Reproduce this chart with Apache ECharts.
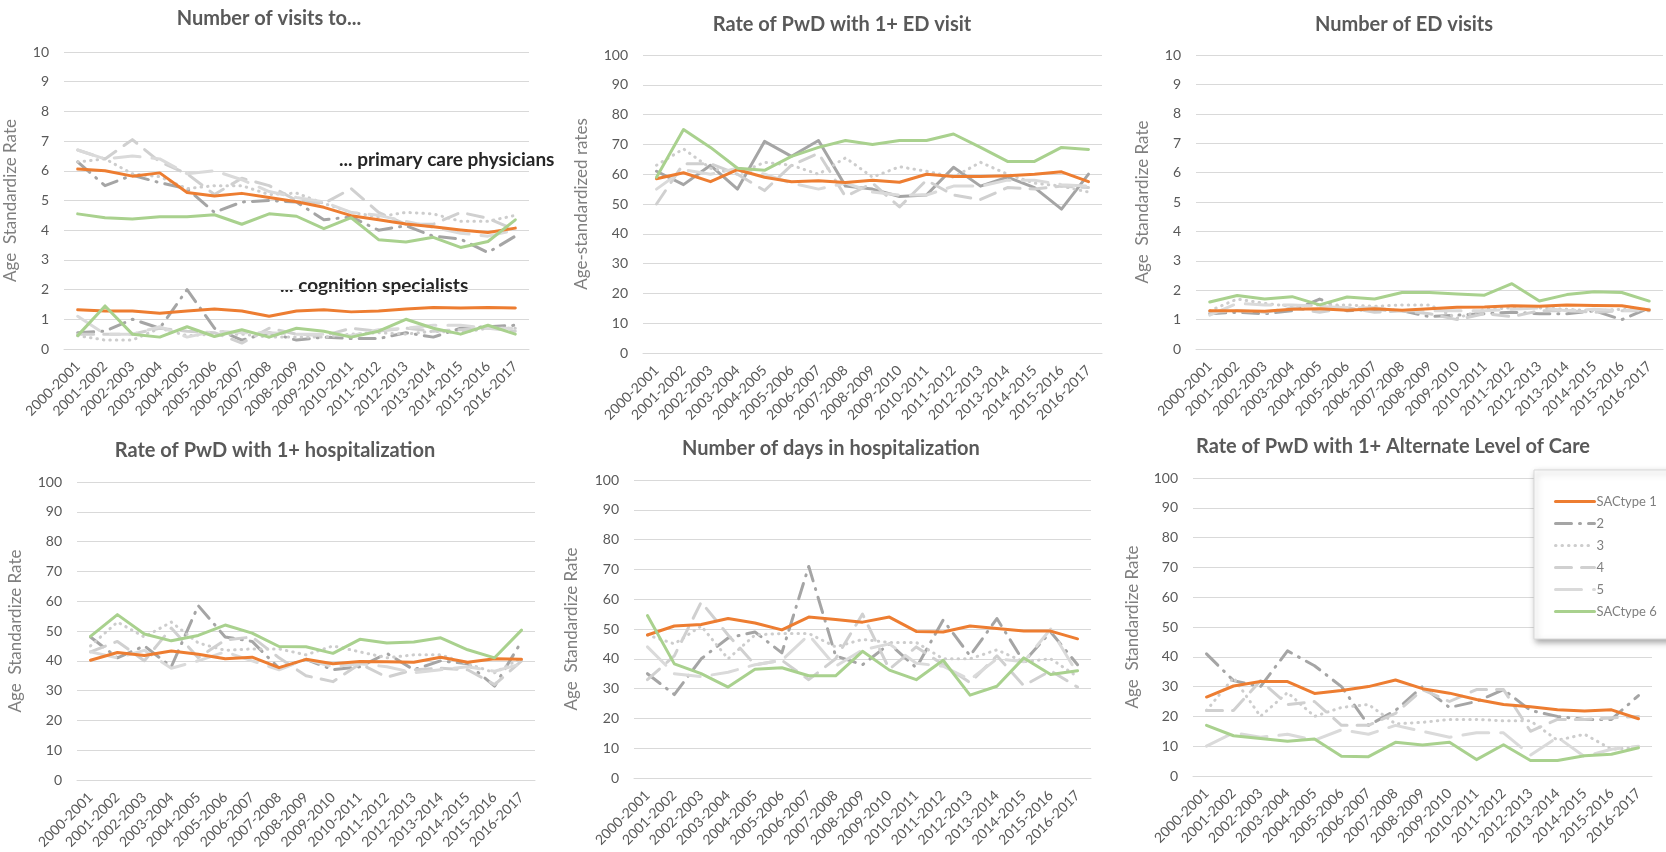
<!DOCTYPE html>
<html>
<head>
<meta charset="utf-8">
<script src="https://cdn.jsdelivr.net/npm/echarts@6/dist/echarts.min.js"></script>
<style>
html, body { margin: 0; padding: 0; background: #fff; }
#chart { width: 1666px; height: 852px; }
</style>
</head>
<body>
<div id="chart"></div>
<script>
// Fiscal years on every x axis
const years = ['2000-2001','2001-2002','2002-2003','2003-2004','2004-2005','2005-2006','2006-2007','2007-2008','2008-2009','2009-2010','2010-2011','2011-2012','2012-2013','2013-2014','2014-2015','2015-2016','2016-2017'];
const seriesNames = ['SACtype 1', '2', '3', '4', '5', 'SACtype 6'];

// Each panel: rows in order SACtype 1, 2, 3, 4, 5, SACtype 6
const pcpVisits = [
  [6.06, 6.0, 5.82, 5.93, 5.27, 5.15, 5.24, 5.1, 4.96, 4.77, 4.49, 4.35, 4.21, 4.12, 4.01, 3.92, 4.07],
  [6.3, 5.5, 5.85, 5.6, 5.4, 4.6, 4.95, 5.0, 4.95, 4.35, 4.45, 4.0, 4.15, 3.8, 3.7, 3.25, 3.8],
  [6.3, 6.4, 5.9, 5.8, 5.4, 5.5, 5.5, 5.2, 5.25, 4.9, 4.6, 4.45, 4.6, 4.55, 4.3, 4.3, 4.5],
  [6.7, 6.4, 7.05, 6.3, 5.9, 5.2, 5.75, 5.5, 5.0, 4.9, 5.4, 4.6, 4.2, 4.2, 4.6, 4.4, 4.0],
  [6.7, 6.4, 6.5, 6.4, 5.9, 6.0, 5.7, 5.3, 5.1, 4.95, 4.6, 4.5, 4.3, 4.1, 3.9, 3.8, 4.0],
  [4.55, 4.42, 4.38, 4.45, 4.45, 4.52, 4.2, 4.55, 4.47, 4.05, 4.42, 3.68, 3.6, 3.76, 3.42, 3.62, 4.35]
];
const cognitionVisits = [
  [1.32, 1.28, 1.28, 1.2, 1.28, 1.35, 1.28, 1.1, 1.28, 1.32, 1.25, 1.28, 1.35, 1.4, 1.38, 1.4, 1.38],
  [0.55, 0.6, 1.0, 0.7, 2.0, 0.7, 0.3, 0.55, 0.3, 0.4, 0.35, 0.35, 0.55, 0.4, 0.7, 0.75, 0.8],
  [0.45, 0.3, 0.3, 0.7, 0.45, 0.5, 0.5, 0.4, 0.4, 0.4, 0.5, 0.55, 0.5, 0.6, 0.55, 0.7, 0.7],
  [0.5, 0.5, 0.5, 0.7, 0.6, 0.55, 0.2, 0.7, 0.5, 0.45, 0.7, 0.6, 0.7, 0.6, 0.65, 0.7, 0.6],
  [1.1, 0.5, 0.5, 0.75, 0.4, 0.6, 0.55, 0.55, 0.5, 0.5, 0.45, 0.65, 0.7, 0.8, 0.8, 0.7, 0.7],
  [0.45, 1.45, 0.5, 0.4, 0.75, 0.42, 0.65, 0.4, 0.7, 0.6, 0.4, 0.6, 1.0, 0.7, 0.5, 0.8, 0.5]
];
const edVisitRate = [
  [58.5, 60.5, 57.5, 61.5, 59, 57.5, 57.8, 57.2, 58, 57.3, 60, 59.2, 59.2, 59.5, 60, 60.8, 57.5],
  [61, 56.5, 63, 55, 71, 66, 71.3, 56, 55, 52.5, 53, 62.3, 56, 59, 55.5, 48.3, 60],
  [63, 68.5, 62, 60, 64, 63, 60, 65.5, 59, 62.5, 61, 59, 64, 60, 57, 56, 54],
  [50, 63.5, 63.5, 60, 54.5, 63, 67, 52.5, 57, 49, 58, 53, 51.5, 55.5, 55, 56, 55.5],
  [55, 61.5, 60, 62, 60, 57, 55, 57, 54, 53, 53, 56, 56, 58, 58, 56.5, 56],
  [59, 75, 69, 62, 61.3, 66, 69, 71.3, 70, 71.3, 71.3, 73.5, 69, 64.3, 64.3, 69, 68.3]
];
const edVisitCount = [
  [1.3, 1.3, 1.28, 1.35, 1.37, 1.32, 1.37, 1.32, 1.37, 1.42, 1.43, 1.47, 1.45, 1.5, 1.48, 1.47, 1.33],
  [1.2, 1.25, 1.2, 1.3, 1.7, 1.3, 1.35, 1.3, 1.1, 1.15, 1.2, 1.25, 1.2, 1.2, 1.3, 1.0, 1.4],
  [1.3, 1.7, 1.55, 1.45, 1.5, 1.5, 1.45, 1.5, 1.5, 1.05, 1.35, 1.4, 1.4, 1.35, 1.3, 1.35, 1.35],
  [1.25, 1.3, 1.25, 1.4, 1.25, 1.4, 1.25, 1.3, 1.2, 1.0, 1.2, 1.1, 1.3, 1.3, 1.25, 1.3, 1.3],
  [1.15, 1.55, 1.5, 1.5, 1.45, 1.4, 1.4, 1.3, 1.3, 1.3, 1.3, 1.35, 1.4, 1.3, 1.35, 1.3, 1.35],
  [1.6, 1.82, 1.7, 1.78, 1.5, 1.77, 1.7, 1.92, 1.92, 1.87, 1.83, 2.22, 1.63, 1.85, 1.95, 1.92, 1.63]
];
const hospRate = [
  [40.2, 42.8, 41.8, 43.3, 42.2, 40.7, 41.2, 37.7, 40.5, 39, 39.8, 39.7, 39.5, 41.2, 39.5, 40.7, 40.5],
  [48, 41, 45, 38, 58.5, 48, 46.5, 37.5, 40.5, 37, 38, 42.5, 37, 40, 39, 31.5, 46.5],
  [45, 53, 48, 53, 46, 43.5, 44, 44, 42, 45, 43, 41, 42, 42, 39, 36, 41],
  [43, 46.5, 40, 51, 41, 47, 48, 41, 35, 33, 39, 34.5, 37, 37.5, 37, 32, 40],
  [43, 41, 43.5, 37.5, 40, 43, 40, 37, 40.5, 38, 39, 38, 36, 37, 38, 36.5, 39],
  [48.2, 55.5, 49, 46.7, 48.5, 52, 49.3, 44.8, 44.7, 42.5, 47.2, 46, 46.3, 47.7, 43.7, 41, 50.3]
];
const hospDays = [
  [48, 51, 51.5, 53.5, 52, 49.7, 54, 53.2, 52.3, 54, 49.2, 49, 51, 50.2, 49.3, 49.3, 46.7],
  [35, 28, 40, 47, 49, 42, 71, 41, 38, 45, 37, 53, 41, 53.5, 39, 49, 38],
  [48, 45, 51, 40, 48, 48.5, 48.5, 44, 46.5, 45.5, 45.5, 40, 40, 43, 39, 40, 34],
  [33, 41, 59, 48, 38, 39.5, 33, 40, 55, 36.5, 44, 38, 32, 41, 31, 36, 30.5],
  [44, 35, 34, 35.5, 38, 39.5, 48, 37.5, 43, 45, 38.5, 37.5, 33, 40, 39, 50, 35],
  [54.5, 38.3, 35, 30.5, 36.5, 37, 34.3, 34.3, 42.5, 36.2, 33, 39.5, 27.8, 30.8, 40.3, 34.7, 36]
];
const alcRate = [
  [26.5, 30.2, 31.7, 31.7, 27.7, 28.7, 30, 32.2, 29.3, 27.8, 25.7, 24, 23.2, 22.2, 21.8, 22.2, 19.2],
  [41, 32, 30, 42, 37, 30, 17, 22, 30, 23, 25, 29, 22, 20, 19, 19, 27],
  [22, 33, 20, 28, 20, 23, 24, 17.5, 18, 19, 19, 18.5, 18.5, 12, 14, 9, 9.5],
  [22, 22, 32, 24, 25, 17, 17, 21, 29, 25, 29, 29, 15, 19, 19, 19.5, 20],
  [10, 14.5, 13, 14, 12, 15.5, 14, 17, 15, 13, 14.5, 14.5, 7, 13, 6.5, 9, 10],
  [17, 13.5, 12.6, 11.7, 12.4, 6.6, 6.5, 11.3, 10.4, 11.3, 5.5, 10.5, 5.2, 5.2, 6.8, 7.3, 9.5]
];

// Line look for each SAC type
const lineColors = ['#ED7D31', '#A5A5A5', '#CDCDCD', '#D0D0D0', '#DADADA', '#A9D18E'];
const lineDashes = ['solid', [16, 8, 1, 8], [0.5, 6], [16, 10], [26, 12], 'solid'];
const drawOrder = [1, 2, 3, 4, 0, 5];

const FONT = 'Lato, "Open Sans", sans-serif';
const TEXT = '#595959';

const panels = [
  { title: 'Number of visits to...', titleX: 264, titleY: 4, yName: 'Age  Standardize Rate', nameGap: 45,
    grid: { left: 64, top: 52, width: 465, height: 297 }, max: 10, interval: 1, data: [pcpVisits, cognitionVisits] },
  { title: 'Rate of PwD with 1+ ED visit', titleX: 837, titleY: 10, yName: 'Age-standardized rates', nameGap: 53,
    grid: { left: 643, top: 55, width: 459, height: 298 }, max: 100, interval: 10, data: [edVisitRate], solidType2: true },
  { title: 'Number of ED visits', titleX: 1399, titleY: 10, yName: 'Age  Standardize Rate', nameGap: 45,
    grid: { left: 1196, top: 55, width: 467, height: 294 }, max: 10, interval: 1, data: [edVisitCount] },
  { title: 'Rate of PwD with 1+ hospitalization', titleX: 270, titleY: 436, yName: 'Age  Standardize Rate', nameGap: 53,
    grid: { left: 77, top: 482, width: 458, height: 298 }, max: 100, interval: 10, data: [hospRate] },
  { title: 'Number of days in hospitalization', titleX: 826, titleY: 434, yName: 'Age  Standardize Rate', nameGap: 54,
    grid: { left: 634, top: 480, width: 457, height: 298 }, max: 100, interval: 10, data: [hospDays] },
  { title: 'Rate of PwD with 1+ Alternate Level of Care', titleX: 1388, titleY: 432, yName: 'Age  Standardize Rate', nameGap: 52,
    grid: { left: 1193, top: 478, width: 459, height: 298 }, max: 100, interval: 10, data: [alcRate] }
];

const option = {
  animation: false,
  backgroundColor: '#ffffff',
  title: [],
  grid: [],
  xAxis: [],
  yAxis: [],
  series: [],
  graphic: []
};

panels.forEach((p, i) => {
  option.title.push({
    text: p.title, left: p.titleX, top: p.titleY, textAlign: 'center',
    textStyle: { fontFamily: FONT, fontWeight: 'bold', fontSize: 20, color: TEXT }
  });
  option.grid.push(Object.assign({ containLabel: false }, p.grid));
  option.xAxis.push({
    type: 'category', gridIndex: i, data: years, boundaryGap: true,
    axisLine: { show: true, lineStyle: { color: '#D9D9D9', width: 1 } },
    axisTick: { show: false },
    axisLabel: { rotate: 45, interval: 0, margin: 15, fontFamily: FONT, fontSize: 14, color: TEXT }
  });
  option.yAxis.push({
    type: 'value', gridIndex: i, min: 0, max: p.max, interval: p.interval,
    name: p.yName, nameLocation: 'middle', nameGap: p.nameGap, nameRotate: 90,
    nameTextStyle: { fontFamily: FONT, fontSize: 17, color: '#7F7F7F' },
    axisLine: { show: false }, axisTick: { show: false },
    axisLabel: { margin: 15, fontFamily: FONT, fontSize: 14, color: TEXT },
    splitLine: { lineStyle: { color: '#D9D9D9', width: 1 } }
  });
  p.data.forEach(group => {
    drawOrder.forEach(k => {
      const dash = (p.solidType2 && k === 1) ? 'solid' : lineDashes[k];
      option.series.push({
        type: 'line', name: seriesNames[k], xAxisIndex: i, yAxisIndex: i,
        data: group[k], symbol: 'none', smooth: false,
        lineStyle: { color: lineColors[k], width: 3, type: dash, cap: 'round', join: 'round' },
        itemStyle: { color: lineColors[k] },
        emphasis: { disabled: true }
      });
    });
  });
});

// Group labels inside the first panel
option.graphic.push(
  { type: 'text', left: 339, top: 150, style: { text: '... primary care physicians', fontFamily: FONT, fontWeight: 'bold', fontSize: 19, fill: '#262626' } },
  { type: 'text', left: 280, top: 276, style: { text: '... cognition specialists', fontFamily: FONT, fontWeight: 'bold', fontSize: 19, fill: '#262626' } }
);

option.legend = {
  orient: 'vertical', left: 1534, top: 470,
  padding: [25, 40, 21, 20], itemGap: 9, itemWidth: 39, itemHeight: 14,
  backgroundColor: '#ffffff', borderColor: '#D9D9D9', borderWidth: 1,
  shadowBlur: 6, shadowColor: 'rgba(0,0,0,0.35)', shadowOffsetX: 2, shadowOffsetY: 3,
  textStyle: { fontFamily: FONT, fontSize: 13, color: '#7F7F7F', padding: [0, 0, 0, -3] },
  selectedMode: false,
  data: seriesNames.map((n, k) => ({
    name: n,
    itemStyle: { opacity: 0 },
    lineStyle: { color: lineColors[k], width: 3, type: lineDashes[k], cap: 'round' }
  }))
};

const chart = echarts.init(document.getElementById('chart'), null, { renderer: 'canvas' });
chart.setOption(option);
</script>
</body>
</html>
